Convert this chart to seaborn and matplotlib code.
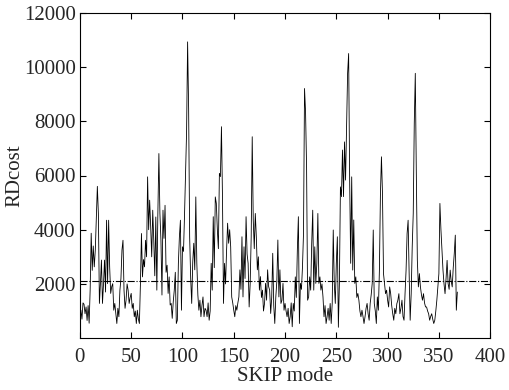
import numpy as np
import pandas as pd
import matplotlib
matplotlib.use("Agg")
import matplotlib.pyplot as plt
import seaborn as sns

# RD cost of each SKIP-mode block
rd_cost = [
    1000, 1030, 700, 1300, 1250, 900, 1150, 650, 1200, 550,
    1800, 3870, 2500, 3400, 2630, 3250, 4400, 5600, 4600, 1280,
    2010, 2880, 1280, 2000, 2880, 1700, 4350, 2010, 4350, 2630,
    1650, 1900, 2010, 1030, 1280, 900, 540, 1100, 790, 1770,
    2200, 3250, 3610, 1770, 1100, 1400, 2000, 1770, 1280, 1500,
    1650, 1100, 1280, 790, 1000, 540, 1030, 700, 540, 2010,
    3860, 2260, 2900, 2630, 3610, 3000, 5950, 4000, 5090, 4100,
    3000, 4720, 3610, 2300, 4470, 1770, 4600, 6810, 4600, 3610,
    1590, 4720, 3680, 4900, 2430, 2690, 1650, 2260, 1220, 1280,
    730, 1340, 1770, 2430, 540, 660, 2760, 3740, 4350, 1030,
    3370, 3200, 4550, 6140, 7610, 10930, 8470, 3740, 2210, 1280,
    2800, 3500, 2520, 5210, 2760, 1590, 1030, 1400, 790, 1200,
    1520, 790, 1100, 1030, 790, 1300, 660, 1000, 2760, 1770,
    4480, 2600, 5210, 4970, 4000, 3300, 6080, 5960, 7800, 5210,
    1280, 2760, 2000, 3250, 4240, 3500, 4000, 3370, 1520, 1300,
    1030, 790, 1200, 1030, 1300, 1520, 2520, 1800, 3740, 1520,
    3370, 2200, 4480, 3100, 2760, 1150, 2000, 3740, 7430, 4360,
    3300, 4600, 3740, 2520, 3000, 1770, 2270, 1500, 1770, 1000,
    1280, 2020, 1400, 2520, 1900, 1770, 910, 1500, 3130, 1200,
    540, 1520, 2100, 3620, 1520, 2520, 1280, 1400, 2020, 1030,
    1280, 1000, 790, 1100, 540, 790, 1300, 420, 1280, 1000,
    2260, 1500, 3250, 4480, 540, 2020, 1800, 2630, 3860, 9210,
    8350, 6320, 1400, 1520, 2260, 1770, 3490, 4720, 1770, 3370,
    2020, 2760, 4600, 2020, 2260, 1770, 2000, 1520, 790, 1200,
    540, 790, 1100, 660, 1280, 540, 1280, 3990, 2020, 1280,
    2760, 3740, 400, 2020, 5580, 5220, 6940, 5220, 7240, 5830,
    7800, 9770, 10500, 5830, 2760, 5950, 2510, 4360, 2020, 2260,
    1500, 1650, 1400, 1000, 790, 1030, 800, 540, 790, 1100,
    1280, 900, 660, 1280, 1600, 2020, 3990, 1280, 1000, 540,
    1520, 1030, 2500, 5300, 6690, 5340, 2380, 2010, 1640, 1770,
    1400, 1150, 1890, 1640, 1200, 900, 660, 1100, 900, 1270,
    1400, 1640, 900, 1100, 1400, 800, 660, 1640, 2500, 3860,
    4350, 2380, 660, 1640, 3370, 4600, 7920, 9770, 6070, 2870,
    1890, 2380, 1890, 1600, 1400, 1640, 1300, 1150, 1150, 1000,
    900, 660, 800, 900, 700, 540, 660, 1000, 1400, 1900,
    2380, 4970, 4000, 3240, 2510, 2000, 1640, 2200, 2870, 2010,
    1800, 2510, 2100, 1890, 2600, 3120, 3800, 1030, 1700,
]
mean_level = 2100

x_ticks = [0, 50, 100, 150, 200, 250, 300, 350, 400]
y_ticks = [2000, 4000, 6000, 8000, 10000, 12000]

df = pd.DataFrame({"block": np.arange(len(rd_cost)), "rdcost": rd_cost})

sns.set_theme(style="ticks")
plt.rcParams["font.family"] = ["Liberation Serif", "DejaVu Serif"]
plt.rcParams["xtick.direction"] = "in"
plt.rcParams["ytick.direction"] = "in"

fig = plt.figure(figsize=(5.09, 3.90), dpi=100)
ax = fig.add_axes([0.157, 0.133, 0.806, 0.834])

sns.lineplot(data=df, x="block", y="rdcost", ax=ax, color="black", linewidth=0.6)
ax.axhline(mean_level, color="black", linestyle="-.", linewidth=0.8)

ax.set_xlim(0, 400)
ax.set_ylim(0, 12000)
ax.set_xticks(x_ticks)
ax.set_yticks(y_ticks)
ax.tick_params(axis="both", which="both", top=True, right=True,
               length=4, width=0.8, labelsize=15, color="black")
ax.tick_params(axis="x", pad=7)
ax.tick_params(axis="y", pad=3)
for s in ax.spines.values():
    s.set_visible(True)
    s.set_linewidth(0.8)
    s.set_color("black")

ax.set_xlabel("SKIP mode", fontsize=15, labelpad=0)
ax.set_ylabel("RDcost", fontsize=15)
# y label sits just right of the figure edge, partly under the tick labels' column
ax.yaxis.set_label_coords(-0.135, 0.5)

fig.savefig("out.png", dpi=100, facecolor="white")
